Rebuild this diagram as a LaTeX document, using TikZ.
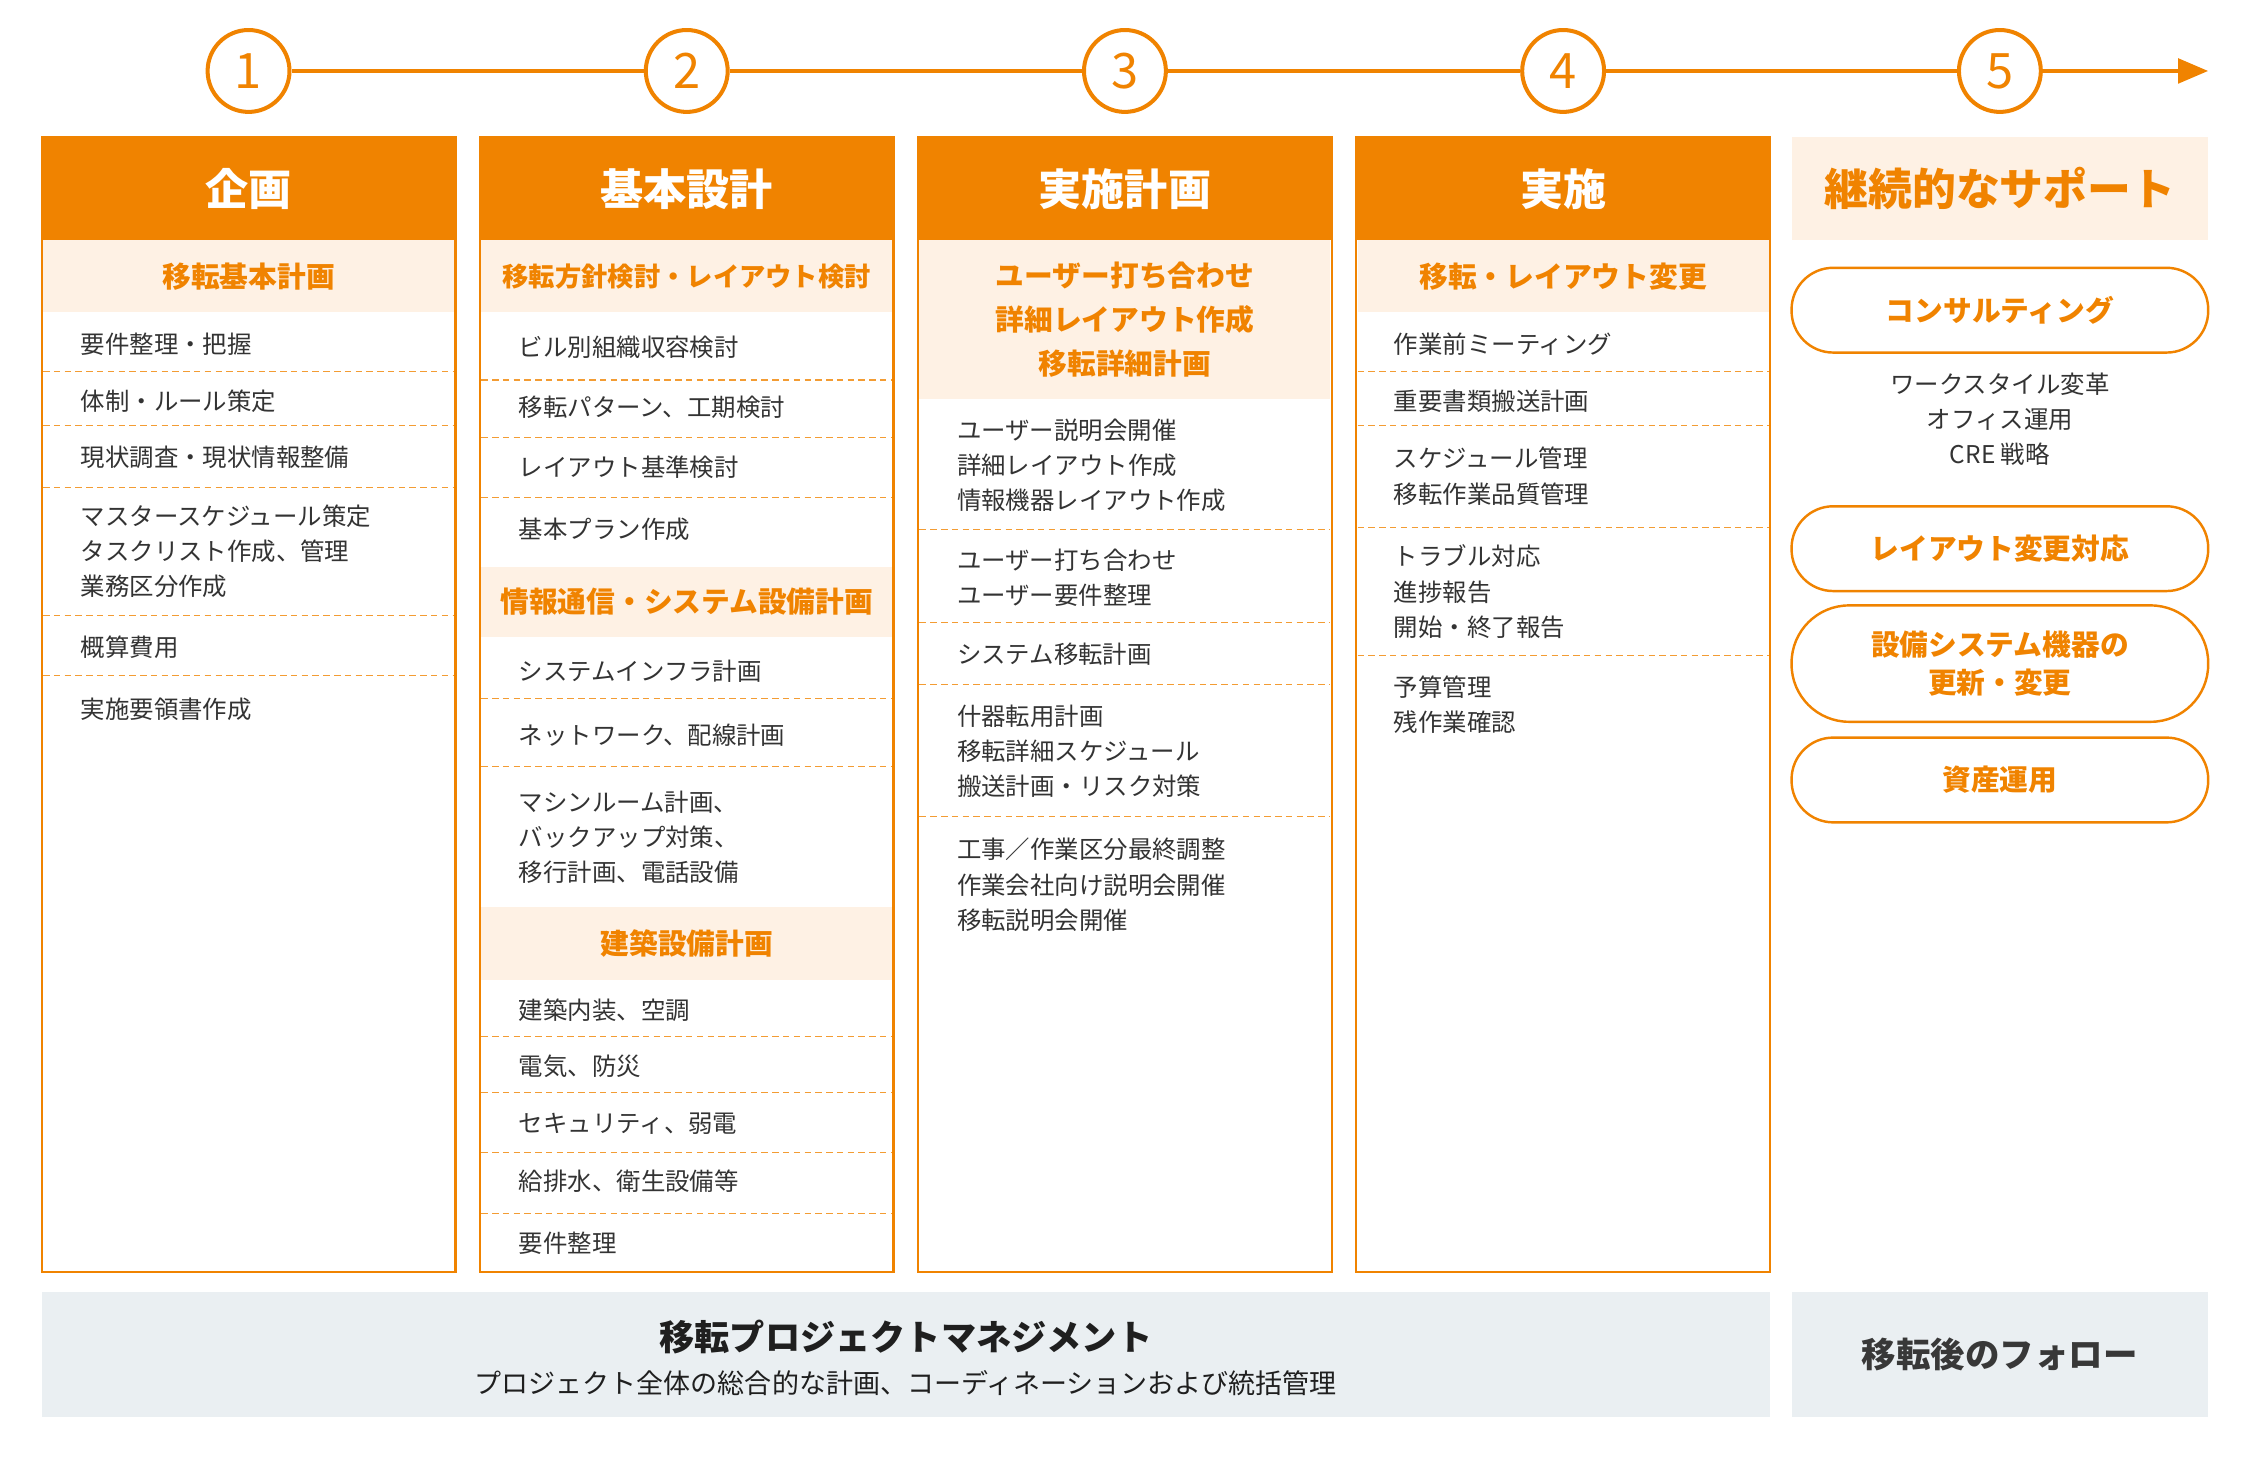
\documentclass[tikz,border=0pt]{standalone}
\usepackage{fontspec}
\setmainfont{Noto Sans CJK JP}
\usetikzlibrary{arrows.meta,positioning}
\definecolor{ora}{HTML}{F08300}
\definecolor{peach}{HTML}{FEF1E4}
\definecolor{mist}{HTML}{EAEFF2}
\definecolor{ink}{HTML}{333333}
\tikzset{
  numring/.style={circle, draw=ora, line width=2.8pt, fill=white, minimum size=57pt, inner sep=0pt, text=ora, font=\fontsize{34}{34}\selectfont},
  timeline/.style={draw=ora, line width=3pt},
  headbox/.style={fill=ora, minimum width=288pt, minimum height=72pt, inner sep=0pt, text=white, font=\bfseries\fontsize{30}{30}\selectfont},
  subbox/.style={fill=peach, minimum width=286pt, minimum height=50pt, inner sep=0pt, text=ora, align=center, font=\bfseries\fontsize{20}{30.5}\selectfont},
  entry/.style={anchor=west, inner sep=0pt, align=left, text=ink, font=\fontsize{17}{24.5}\selectfont},
  dashsep/.style={draw=ora!80, dash pattern=on 4.5pt off 3pt, line width=0.9pt},
  colframe/.style={draw=ora, line width=1.6pt},
  pill/.style={draw=ora, line width=1.7pt, minimum width=290pt, minimum height=59pt, rounded corners=29pt, inner sep=0pt, text=ora, align=center, font=\bfseries\fontsize{20}{26}\selectfont},
  greybox/.style={fill=mist, inner sep=0pt, minimum height=87pt},
}
\begin{document}
\begin{tikzpicture}[x=1pt, y=-1pt]
  \useasboundingbox (1,0.6) rectangle (1567.1,1016.6);
  % step rings
  \foreach \cx [count=\i] in {174,479,784,1089,1393}
    \node[numring] (n\i) at (\cx,50) {\i};
  \coordinate (tip) at (1538,50);
  \draw[timeline] (n1) -- (n2);
  \draw[timeline] (n2) -- (n3);
  \draw[timeline] (n3) -- (n4);
  \draw[timeline] (n4) -- (n5);
  \draw[timeline, -{Triangle[length=21pt, width=17pt]}] (n5) -- (tip);

  % column headers
  \foreach \cx/\ttl [count=\i] in {30/企画, 335/基本設計, 640/実施計画, 945/実施}
    \node[headbox] (head\i) at (\cx+144,132) {\ttl};

  % 1: planning
  \node[subbox] (sub1) at (174,193) {移転基本計画};
  \node[entry] (a1) at (57,240) {要件整理・把握};
  \node[entry] (a2) at (57,280) {体制・ルール策定};
  \node[entry] (a3) at (57,319) {現状調査・現状情報整備};
  \node[entry] (a4) at (57,384.5) {マスタースケジュール策定\\タスクリスト作成、管理\\業務区分作成};
  \node[entry] (a5) at (57,451) {概算費用};
  \node[entry] (a6) at (57,494) {実施要領書作成};
  \foreach \y in {259,297,340,429,471}
    \draw[dashsep] (31,\y) -- (317,\y);

  % 2: basic design
  \node[subbox, font=\bfseries\fontsize{18.3}{24}\selectfont] (sub2) at (479,193) {移転方針検討・レイアウト検討};
  \node[entry] (b1) at (362,242) {ビル別組織収容検討};
  \node[entry] (b2) at (362,284) {移転パターン、工期検討};
  \node[entry] (b3) at (362,326) {レイアウト基準検討};
  \node[entry] (b4) at (362,369) {基本プラン作成};
  \node[subbox, minimum height=49pt] (sub2b) at (479,419.5) {情報通信・システム設備計画};
  \node[entry] (b5) at (362,468) {システムインフラ計画};
  \node[entry] (b6) at (362,512) {ネットワーク、配線計画};
  \node[entry] (b7) at (362,583.5) {マシンルーム計画、\\バックアップ対策、\\移行計画、電話設備};
  \node[subbox, minimum height=51pt] (sub2c) at (479,657.5) {建築設備計画};
  \node[entry] (b8) at (362,704) {建築内装、空調};
  \node[entry] (b9) at (362,743) {電気、防災};
  \node[entry] (b10) at (362,783) {セキュリティ、弱電};
  \node[entry] (b11) at (362,823) {給排水、衛生設備等};
  \node[entry] (b12) at (362,866) {要件整理};
  \foreach \y in {265,305,347,487,534,722,761,803,845}
    \draw[dashsep] (336,\y) -- (622,\y);

  % 3: detailed planning
  \node[subbox, minimum height=110pt] (sub3) at (784,223) {ユーザー打ち合わせ\\詳細レイアウト作成\\移転詳細計画};
  \node[entry] (c1) at (667,324.5) {ユーザー説明会開催\\詳細レイアウト作成\\情報機器レイアウト作成};
  \node[entry] (c2) at (667,402.5) {ユーザー打ち合わせ\\ユーザー要件整理};
  \node[entry] (c3) at (667,456) {システム移転計画};
  \node[entry] (c4) at (667,523.5) {什器転用計画\\移転詳細スケジュール\\搬送計画・リスク対策};
  \node[entry] (c5) at (667,616.5) {工事／作業区分最終調整\\作業会社向け説明会開催\\移転説明会開催};
  \foreach \y in {369,434,477,569}
    \draw[dashsep] (641,\y) -- (927,\y);

  % 4: execution
  \node[subbox] (sub4) at (1089,193) {移転・レイアウト変更};
  \node[entry] (d1) at (971,240) {作業前ミーティング};
  \node[entry] (d2) at (971,280) {重要書類搬送計画};
  \node[entry] (d3) at (971,332) {スケジュール管理\\移転作業品質管理};
  \node[entry] (d4) at (971,412.5) {トラブル対応\\進捗報告\\開始・終了報告};
  \node[entry] (d5) at (971,491) {予算管理\\残作業確認};
  \foreach \y in {259,297,368,457}
    \draw[dashsep] (946,\y) -- (1232,\y);

  % column frames
  \foreach \cx in {30,335,640,945}
    \draw[colframe] (\cx,96) rectangle (\cx+288,886);

  % 5: continuing support
  \node[headbox, fill=peach, text=ora, minimum width=290pt, font=\bfseries\fontsize{30.5}{30.5}\selectfont] (head5) at (1393,132) {継続的なサポート};
  \node[pill] (p1) at (1393,216.5) {コンサルティング};
  \node[entry, anchor=center, align=center] (p1note) at (1393,292.5) {ワークスタイル変革\\オフィス運用\\CRE 戦略};
  \node[pill] (p2) at (1393,382.5) {レイアウト変更対応};
  \node[pill, minimum height=81pt, rounded corners=40pt] (p3) at (1393,462.5) {設備システム機器の\\更新・変更};
  \node[pill] (p4) at (1393,543.5) {資産運用};

  % bottom band
  \node[greybox, minimum width=1203pt] (pm) at (631.5,943.5) {};
  \node[font=\bfseries\fontsize{24.5}{24.5}\selectfont, text=black!88] (pmtitle) at (631.5,931) {移転プロジェクトマネジメント};
  \node[font=\fontsize{18.8}{18.8}\selectfont, text=black!88] (pmsub) at (631.5,963) {プロジェクト全体の総合的な計画、コーディネーションおよび統括管理};
  \node[greybox, minimum width=290pt, text=black!78, font=\bfseries\fontsize{24}{24}\selectfont] (follow) at (1393,943.5) {移転後のフォロー};
\end{tikzpicture}
\end{document}
